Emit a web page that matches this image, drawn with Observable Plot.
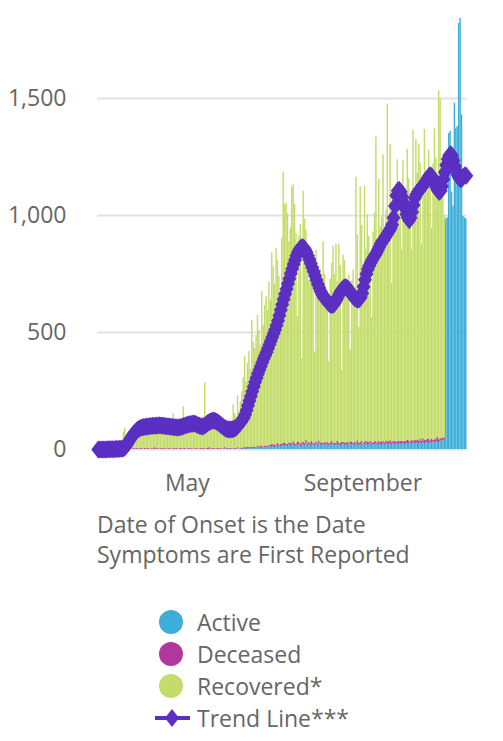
<!DOCTYPE html>
<html><head><meta charset="utf-8">
<script src="https://cdn.jsdelivr.net/npm/d3@7"></script>
<script src="https://cdn.jsdelivr.net/npm/@observablehq/plot@0.6"></script>
<style>
html,body{margin:0;padding:0;background:#fff;}
body{font-family:"Open Sans",sans-serif;color:#666;width:503px;}
#chart svg{display:block;}
.caption{margin:9px 0 0 97px;font-size:23px;line-height:30px;color:#666;white-space:nowrap;}
.legend{margin:37px 0 0 153px;font-size:23px;color:#666;}
.legend .row{display:flex;align-items:center;height:32px;line-height:32px;}
.legend svg{display:block;flex:none;}
.legend span{margin-left:7px;}
</style></head><body>
<div id="chart"></div>
<div class="caption" id="caption"></div>
<div class="legend" id="legend"></div>
<script>
const startDate = "2020-02-28";
const seriesNames = ["Active", "Deceased", "Recovered*"];
const seriesColors = ["#3daed8", "#b0379d", "#c4dc69"];
const trendName = "Trend Line***";
const trendColor = "#5b2fc2";
const yTicks = [0, 500, 1000, 1500];
const xTickDates = ["2020-05-01", "2020-09-01"];
const captionLines = ["Date of Onset is the Date", "Symptoms are First Reported"];

const recovered = [
0,0,0,0,0,1,0,2,1,2,
3,2,4,5,6,8,12,18,72,90,
40,48,55,45,60,72,66,80,74,85,
92,88,70,95,105,82,98,110,76,94,
102,86,115,98,80,108,96,74,100,112,
90,82,104,150,96,70,88,100,112,92,
180,98,84,106,118,90,76,108,120,96,
112,100,86,124,108,282,94,118,130,104,
126,112,92,138,120,100,88,110,96,84,
92,78,104,98,120,188,150,136,222,160,
198,240,300,390,280,360,410,330,543,450,
420,480,560,500,430,660,520,600,640,580,
700,620,820,760,690,842,780,720,508,880,
1158,1020,1030,987,860,920,1098,1098,1021,900,
538,880,940,359,1073,960,900,820,692,760,
820,740,393,820,700,680,740,660,859,720,
640,580,350,700,760,842,720,850,680,850,
760,308,800,780,700,640,720,393,690,740,
600,1137,880,496,1094,923,760,1094,820,970,
880,760,538,900,980,1300,840,1120,920,960,
1226,880,990,1440,920,1265,680,1020,960,1100,
1205,1080,960,816,1200,1040,1000,1244,1120,980,
816,1329,1060,1286,1140,1270,1180,842,1100,1329,
1140,1060,1235,1150,900,1180,1329,1200,1090,1491,
1450,1150,1050,950,0,0,0,0,0,0,
0,0,0,0,0,0,0,0,0
];

const deceased = [
0,0,0,0,0,0,0,0,0,0,
0,0,0,0,0,0,1,0,2,1,
3,2,4,3,2,4,3,5,2,4,
3,4,2,5,3,4,3,2,4,3,
8,3,4,2,3,5,3,4,2,3,
4,3,2,4,3,5,2,3,4,3,
3,4,2,3,5,3,4,2,3,4,
3,2,4,3,5,2,3,4,8,3,
2,4,3,2,5,3,4,2,3,4,
3,5,2,4,3,2,4,3,5,2,
4,6,3,5,8,4,6,3,7,5,
6,4,8,5,7,10,4,6,9,5,
8,6,11,7,9,5,12,8,6,10,
9,14,7,10,8,12,6,11,9,7,
10,13,8,6,11,9,14,7,10,8,
12,6,9,11,7,13,8,10,6,9,
11,7,10,8,12,9,6,10,13,8,
9,11,7,10,8,12,6,9,11,8,
10,7,12,9,8,11,6,10,9,13,
8,11,9,7,12,10,8,11,9,14,
10,8,12,9,11,15,8,10,13,9,
11,9,14,10,8,12,11,16,9,10,
13,11,9,15,12,10,14,11,18,12,
10,16,13,11,15,12,9,14,17,11,
13,10,12,9,0,0,0,0,0,0,
0,0,0,0,0,0,0,0,0
];

const active = [
0,0,0,0,0,0,0,0,0,0,
0,0,0,0,0,0,0,0,0,0,
0,0,0,0,0,0,0,0,0,0,
0,0,0,0,0,0,0,0,0,0,
0,0,0,0,0,0,0,0,0,0,
0,0,0,0,0,0,0,0,0,0,
0,0,0,0,0,0,0,0,0,0,
0,0,0,0,0,0,0,0,0,0,
3,0,0,1,0,0,0,0,0,4,
0,0,2,0,0,1,0,0,3,0,
2,0,4,3,0,5,3,6,2,4,
5,3,6,4,8,5,7,9,6,10,
8,12,10,14,9,12,15,11,16,13,
18,14,16,12,20,15,18,22,16,14,
20,18,15,22,19,16,24,18,20,17,
22,19,16,21,18,24,20,17,23,19,
18,22,15,20,24,18,21,17,22,19,
16,20,23,18,21,17,19,24,20,18,
22,19,25,17,21,23,18,20,26,19,
21,24,18,22,20,25,19,23,21,18,
24,20,22,26,19,23,21,25,20,24,
22,27,20,24,26,21,25,23,28,22,
26,24,29,23,27,25,30,24,28,26,
29,27,31,26,30,28,32,29,34,30,
33,36,38,40,985,990,1350,1360,1100,1040,
1480,1370,1380,1820,1842,1430,995,990,985
];

const trend = [
0,0,0,0,0,0,0,1,1,1,
1,1,2,2,2,3,3,4,5,12,
20,30,40,50,60,68,75,81,86,90,
93,95,96,97,98,98,99,100,101,102,
102,103,103,104,103,102,101,100,99,98,
98,97,96,95,95,94,94,95,96,98,
100,103,105,107,108,109,110,111,110,107,
104,101,99,98,100,104,109,114,118,121,
123,124,122,119,115,110,105,100,95,91,
88,86,85,85,86,88,91,96,103,110,
118,126,136,150,168,188,208,228,248,268,
288,306,324,340,356,372,388,402,416,432,
448,464,480,496,512,530,550,572,596,620,
642,664,686,708,730,752,772,792,810,828,
843,855,862,865,862,855,843,828,812,795,
778,760,742,724,706,690,675,662,651,645,
640,630,622,618,617,620,628,640,652,664,
675,684,690,693,692,688,680,670,660,652,
646,642,640,642,650,668,695,725,750,770,
785,798,810,820,830,840,852,865,878,890,
895,905,915,925,935,945,960,990,1040,1085,
1105,1110,1100,1080,1055,1030,1005,990,980,990,
1015,1045,1075,1090,1100,1108,1115,1122,1130,1140,
1150,1160,1170,1172,1165,1150,1135,1120,1108,1100,
1105,1125,1155,1185,1215,1240,1255,1262,1255,1235,
1210,1190,1172,1160,1155,1158,1165,1172,1170
];

const parse = d3.utcParse("%Y-%m-%d");
const t0 = parse(startDate);
const N = recovered.length;
const seriesValues = [active, deceased, recovered];
const rows = [];
for (let i = 0; i < N; i++) {
  const d0 = d3.utcDay.offset(t0, i), d1 = d3.utcDay.offset(t0, i + 1);
  seriesNames.forEach((s, k) => rows.push({x1: d0, x2: d1, series: s, value: seriesValues[k][i]}));
}
const trendRows = trend.map((v, i) => ({date: d3.utcHour.offset(d3.utcDay.offset(t0, i), 12), value: v}));

const diamond = {draw(ctx) { const h = 9, w = 7; ctx.moveTo(0, -h); ctx.lineTo(w, 0); ctx.lineTo(0, h); ctx.lineTo(-w, 0); ctx.closePath(); }};

const chart = Plot.plot({
  width: 503, height: 500,
  marginLeft: 97, marginRight: 36.5, marginTop: 16, marginBottom: 51,
  style: {fontFamily: "'Open Sans', sans-serif", fontSize: "23px", color: "#666", background: "#fff", overflow: "visible"},
  x: {type: "utc", domain: [t0, d3.utcDay.offset(t0, N)], label: null},
  y: {domain: [0, 1850], label: null},
  color: {domain: seriesNames, range: seriesColors},
  marks: [
    Plot.ruleY(yTicks, {stroke: "#e2e2e2", strokeWidth: 2}),
    Plot.rectY(rows, {x1: "x1", x2: "x2", y: "value", fill: "series", order: seriesNames}),
    Plot.line(trendRows, {x: "date", y: "value", stroke: trendColor, strokeWidth: 4}),
    Plot.dot(trendRows, {x: "date", y: "value", fill: trendColor, symbol: diamond, r: 7}),
    Plot.axisY({ticks: yTicks, tickSize: 0, tickPadding: 31, tickFormat: d3.format(","), label: null}),
    Plot.axisX({ticks: xTickDates.map(parse), tickSize: 0, tickPadding: 25, tickFormat: d3.utcFormat("%B"), label: null})
  ]
});
document.getElementById("chart").appendChild(chart);

document.getElementById("caption").innerHTML = captionLines.map(l => `<div>${l}</div>`).join("");

const legend = document.getElementById("legend");
seriesNames.forEach((s, k) => {
  const row = document.createElement("div");
  row.className = "row";
  row.innerHTML = `<svg width="37" height="32"><circle cx="18" cy="16" r="12" fill="${seriesColors[k]}"/></svg><span>${s}</span>`;
  legend.appendChild(row);
});
const trow = document.createElement("div");
trow.className = "row";
trow.innerHTML = `<svg width="37" height="32"><line x1="2" x2="37" y1="16" y2="16" stroke="${trendColor}" stroke-width="4"/><path d="M19,7L26,16L19,25L12,16Z" fill="${trendColor}"/></svg><span>${trendName}</span>`;
legend.appendChild(trow);
</script>
</body></html>
